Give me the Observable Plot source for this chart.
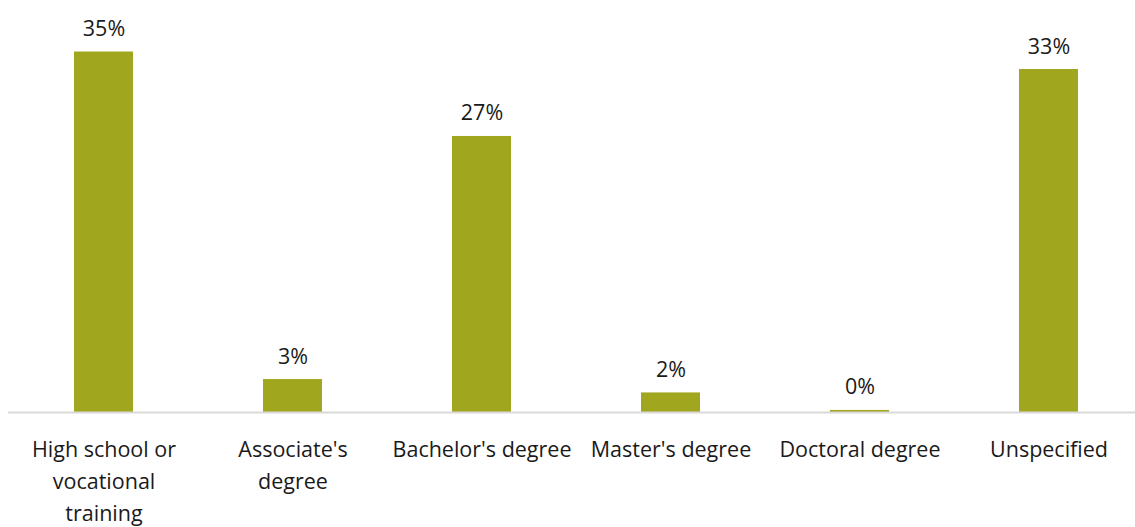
<!DOCTYPE html>
<html>
<head>
<meta charset="utf-8">
<script src="https://cdn.jsdelivr.net/npm/d3@7"></script>
<script src="https://cdn.jsdelivr.net/npm/@observablehq/plot@0.6"></script>
<style>
  html, body { margin: 0; padding: 0; background: #fff; overflow: hidden; }
  svg { display: block; }
</style>
</head>
<body>
<div id="chart"></div>
<script>
const categories = ["High school or vocational training", "Associate's degree", "Bachelor's degree", "Master's degree", "Doctoral degree", "Unspecified"];
const tickLabels = ["High school or\nvocational\ntraining", "Associate's\ndegree", "Bachelor's degree", "Master's degree", "Doctoral degree", "Unspecified"];
const values = [35.0, 3.2, 26.8, 1.9, 0.2, 33.3];
const valueLabels = ["35%", "3%", "27%", "2%", "0%", "33%"];

const data = categories.map((c, i) => ({category: c, value: values[i], label: valueLabels[i]}));
const labelOf = new Map(categories.map((c, i) => [c, tickLabels[i]]));

const chart = Plot.plot({
  width: 1135,
  height: 527,
  marginLeft: 8,
  marginRight: -9,
  marginTop: 0,
  marginBottom: 115,
  style: {fontFamily: "'Open Sans', 'Noto Sans', sans-serif", fontSize: "21.5px", color: "#1a1a1a", background: "#fff"},
  x: {domain: categories, paddingInner: 0.69, paddingOuter: 0.345, label: null},
  y: {domain: [0, 40], axis: null},
  marks: [
    Plot.barY(data, {x: "category", y: "value", fill: "#A0A71E"}),
    Plot.ruleY([0], {stroke: "#d9d9d9", strokeWidth: 2}),
    Plot.text(data, {x: "category", y: "value", text: "label", lineAnchor: "bottom", dy: -16, fill: "#1a1a1a", fontSize: 21.5}),
    Plot.axisX({tickSize: 0, tickPadding: 22, tickFormat: d => labelOf.get(d), lineHeight: 1.48, fontSize: 21.5, fill: "#1a1a1a", label: null})
  ]
});
document.getElementById("chart").appendChild(chart);
</script>
</body>
</html>
